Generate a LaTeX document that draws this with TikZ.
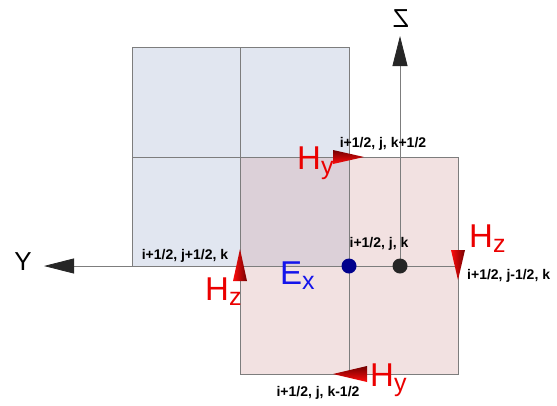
\documentclass[tikz,border=0pt]{standalone}
\usepackage{fontspec}
\setmainfont{Liberation Sans}
\usetikzlibrary{arrows.meta,positioning}
\definecolor{cellblue}{RGB}{225,230,240}
\definecolor{cellpink}{RGB}{242,225,225}
\definecolor{cellmix}{RGB}{220,208,216}
\definecolor{gridgray}{RGB}{125,125,125}
\definecolor{hred}{RGB}{235,0,0}
\definecolor{exblue}{RGB}{20,20,235}
\newcommand{\fsub}[1]{\raisebox{-5pt}{\fontsize{25}{25}\selectfont #1}}

\begin{document}
\begin{tikzpicture}[x=1pt, y=-1pt,
  grid/.style={draw=gridgray, line width=0.8pt},
  idx/.style={font=\fontsize{14}{14}\selectfont\bfseries, inner sep=0pt},
  field/.style={font=\fontsize{33}{33}\selectfont, text=hred,
    inner sep=0pt, anchor=base west},
  axislbl/.style={font=\fontsize{26}{26}\selectfont, inner sep=0pt},
  axis/.style={draw=gridgray, line width=0.8pt,
    -{Triangle[length=30pt,width=15pt,color=black!85]}},
  vcone/.style={left color=red!95!white, right color=red!45!black},
  hcone/.style={top color=red!45!black, bottom color=red!95!white},
  dot/.style={circle, inner sep=0pt, minimum size=15pt}]
\useasboundingbox (0,0) rectangle (557,405);

% the two cells
\fill[cellblue] (132,47) rectangle (349,266);
\fill[cellpink] (240,157) rectangle (458,374);
\fill[cellmix] (240,157) rectangle (349,266);
\draw[grid] (132,47) rectangle (349,266);
\draw[grid] (240,157) rectangle (458,374);
\draw[grid] (240,47) -- (240,157);
\draw[grid] (132,157) -- (240,157);
\draw[grid] (349,266) -- (349,374);
\draw[grid] (349,266) -- (458,266);

% axes
\coordinate (o) at (400,266);
\coordinate (ytip) at (44,266);
\coordinate (ztip) at (400,36);
\draw[axis] (o) -- (ytip);
\draw[axis] (o) -- (ztip);
\node[axislbl] (ylbl) at (23,262) {Y};
\node[axislbl, xscale=-1] (zlbl) at (401,19) {Z};

% field components
\shade[vcone] (240,249) -- (247,281) -- (233,281) -- cycle;
\shade[vcone] (458,280) -- (465,250) -- (451,250) -- cycle;
\shade[hcone] (364,157) -- (333,150) -- (333,164) -- cycle;
\shade[hcone] (333,374) -- (367,366) -- (367,382) -- cycle;

\node[field] (hyt) at (297,169) {H\fsub{y}};
\node[field] (hzl) at (205,300) {H\fsub{z}};
\node[field] (hzr) at (469,247) {H\fsub{z}};
\node[field] (hyb) at (370,386) {H\fsub{y}};
\node[field, text=exblue] (ex) at (280,284) {E\fsub{x}};

% grid points
\node[dot, fill=blue!55!black] (pex) at (349,266) {};
\node[dot, fill=black!85] (pc) at (o) {};

% indices
\node[idx] (ijk) at (379,244) {i+1/2, j, k};
\node[idx] (kp) at (383,144) {i+1/2, j, k+1/2};
\node[idx] (km) at (318,393) {i+1/2, j, k-1/2};
\node[idx] (jp) at (185,256) {i+1/2, j+1/2, k};
\node[idx, anchor=west] (jm) at (467,276) {i+1/2, j-1/2, k};
\end{tikzpicture}
\end{document}
